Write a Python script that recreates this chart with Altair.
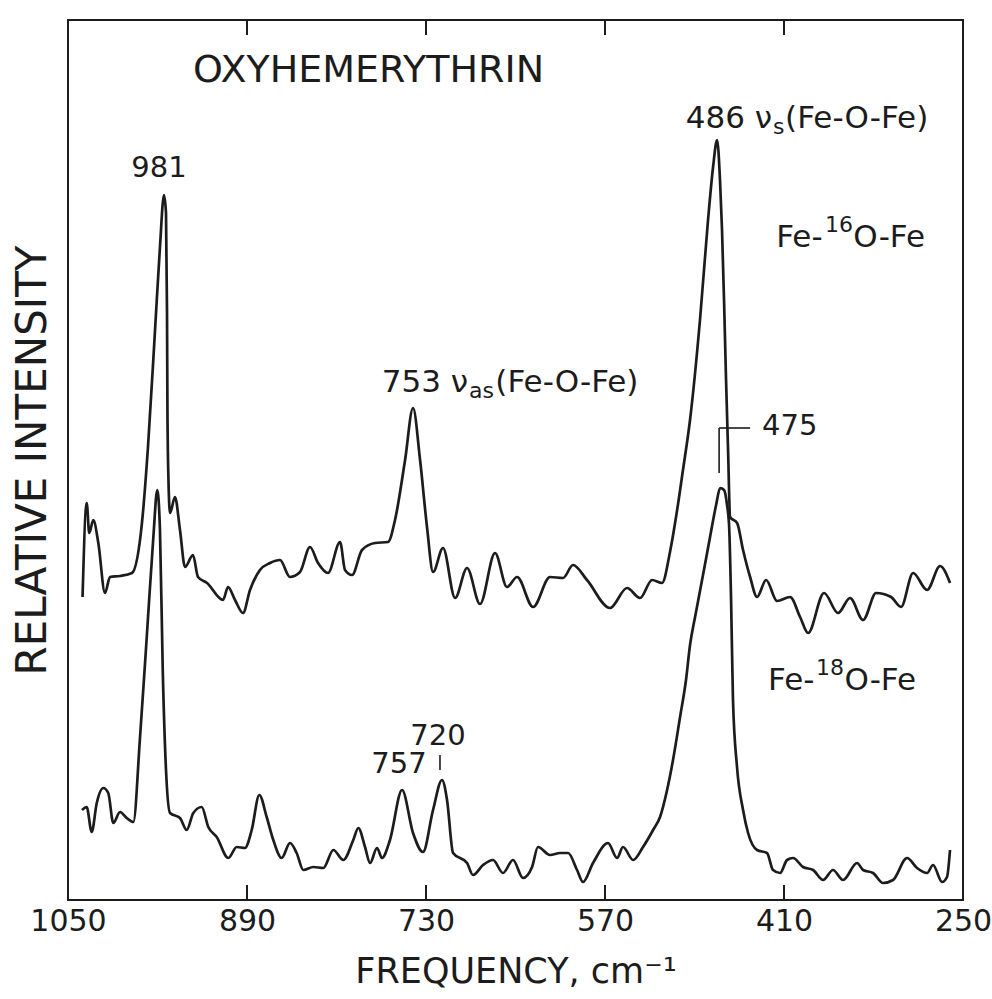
import altair as alt
import pandas as pd

# ---- data (frequency in cm-1, relative intensity in arbitrary units) ----
FREQ_UPPER = [1037.0, 1033.3, 1031.0, 1027.4, 1022.9, 1016.9, 1012.5, 1003.5, 992.8, 983.9,
              978.5, 972.2, 967.8, 964.2, 962.4, 961.5, 961.1, 960.2, 958.8, 954.4,
              949.9, 945.4, 938.3, 933.8, 925.7, 911.4, 907.0, 900.7, 893.6, 887.3,
              878.4, 869.4, 860.5, 851.6, 842.6, 833.7, 826.5, 817.6, 806.8, 802.4,
              796.1, 787.2, 775.6, 763.9, 757.7, 748.7, 741.6, 735.3, 729.1, 723.7,
              714.8, 704.0, 693.3, 681.7, 668.3, 657.6, 648.6, 634.3, 619.1, 607.5,
              598.6, 586.1, 565.5, 550.3, 538.7, 527.9, 519.0, 511.9, 506.5, 500.3,
              494.0, 485.1, 477.9, 473.4, 469.8, 467.2, 465.4, 463.6, 461.8, 460.0,
              458.2, 451.9, 446.6, 440.3, 434.1, 426.0, 416.2, 404.6, 395.6, 388.5,
              374.2, 361.7, 351.0, 339.3, 327.7, 314.3, 305.4, 294.6, 282.1, 270.5,
              261.6]
INT_UPPER = [303, 397, 367, 380, 357, 307, 323, 324, 327, 377,
             453, 570, 653, 705, 687, 587, 487, 420, 387, 403,
             370, 333, 345, 323, 317, 300, 313, 300, 287, 310,
             330, 337, 340, 323, 328, 353, 337, 327, 358, 330,
             325, 350, 357, 358, 380, 440, 492, 440, 373, 328,
             352, 302, 332, 296, 347, 313, 323, 293, 323, 322,
             335, 320, 292, 312, 302, 320, 317, 348, 383, 430,
             480, 580, 680, 733, 760, 720, 670, 600, 520, 450,
             383, 377, 350, 323, 303, 320, 299, 303, 283, 267,
             307, 287, 302, 280, 307, 303, 293, 327, 310, 334,
             317]

FREQ_LOWER = [1037.5, 1033.3, 1028.8, 1024.3, 1018.4, 1014.0, 1009.5, 1003.5, 997.5, 991.6,
              985.6, 979.6, 973.7, 970.2, 967.8, 965.3, 962.4, 958.8, 949.9, 943.9,
              938.0, 930.5, 924.6, 917.1, 906.7, 899.2, 891.8, 885.8, 879.0, 872.4,
              866.5, 859.0, 851.6, 845.6, 839.7, 830.7, 821.8, 812.8, 803.9, 795.0,
              790.5, 784.5, 780.0, 773.8, 769.3, 762.2, 751.4, 741.6, 732.7, 723.7,
              715.7, 711.2, 705.8, 693.3, 688.0, 679.0, 670.1, 661.2, 652.2, 643.3,
              635.2, 629.9, 619.1, 610.2, 603.0, 595.0, 589.6, 580.7, 567.3, 559.2,
              553.9, 544.9, 536.0, 527.0, 520.8, 514.5, 509.2, 502.9, 497.6, 494.0,
              489.5, 482.4, 476.1, 470.7, 467.1, 463.6, 460.9, 459.1, 457.3, 455.6,
              452.0, 446.6, 442.1, 434.1, 425.2, 419.8, 413.5, 407.3, 401.9, 393.0,
              384.0, 375.1, 366.2, 357.2, 344.7, 339.3, 330.4, 321.5, 312.5, 300.0,
              291.1, 282.1, 276.8, 268.7, 264.3, 261.6]
INT_LOWER = [90, 93, 68, 97, 112, 107, 77, 88, 82, 78,
             163, 263, 363, 410, 370, 230, 130, 87, 82, 70,
             87, 93, 73, 63, 42, 53, 52, 70, 105, 83,
             60, 42, 57, 47, 30, 33, 32, 50, 40, 60,
             72, 53, 37, 52, 42, 60, 110, 67, 48, 90,
             120, 100, 47, 37, 25, 35, 40, 27, 40, 22,
             33, 53, 45, 47, 47, 30, 18, 37, 57, 42,
             53, 40, 53, 70, 83, 110, 140, 183, 220, 255,
             283, 325, 363, 395, 412, 410, 395, 375, 300, 200,
             133, 90, 67, 50, 47, 30, 27, 40, 42, 33,
             30, 20, 30, 20, 37, 30, 27, 17, 20, 42,
             32, 27, 35, 18, 23, 50]

TRACE_NAMES = ["Fe-16O-Fe", "Fe-18O-Fe"]
TICK_LABELS = [1050, 890, 730, 570, 410, 250]
INNER_TICKS = [890, 730, 570, 410]

FONT = "DejaVu Sans"
INK = "#1c1c1c"

rows = []
for name, fs, vs in [(TRACE_NAMES[0], FREQ_UPPER, INT_UPPER), (TRACE_NAMES[1], FREQ_LOWER, INT_LOWER)]:
    for i, (f, v) in enumerate(zip(fs, vs)):
        rows.append({"freq": f, "intensity": v, "trace": name, "idx": i})
spectra = pd.DataFrame(rows)

x_scale = alt.Scale(domain=[1050, 250], nice=False, zero=False)
y_scale = alt.Scale(domain=[0, 880], nice=False, zero=False)

lines = alt.Chart(spectra).mark_line(color=INK, strokeWidth=2.7, strokeJoin="round",
                                     interpolate="monotone").encode(
    x=alt.X("freq:Q", scale=x_scale,
            axis=alt.Axis(values=TICK_LABELS, format="d", ticks=False, domain=False, grid=False,
                          labelFontSize=30, labelFont=FONT, labelColor=INK, labelPadding=6,
                          labelFlush=False, labelOverlap=False,
                          title="FREQUENCY,  cm⁻¹", titleFont=FONT, titleFontSize=35,
                          titleFontWeight="normal", titleColor=INK, titlePadding=18)),
    y=alt.Y("intensity:Q", scale=y_scale,
            axis=alt.Axis(labels=False, ticks=False, domain=False, grid=False,
                          title="RELATIVE INTENSITY", titleFont=FONT, titleFontSize=42,
                          titleFontWeight="normal", titleColor=INK, titlePadding=23,
                          titleBaseline="alphabetic")),
    detail="trace:N",
    order="idx:Q",
)

# inward ticks on bottom and top edges
tick_rows = []
for f in INNER_TICKS:
    tick_rows.append({"freq": f, "y1": 0, "y2": 15})
    tick_rows.append({"freq": f, "y1": 865, "y2": 880})
ticks = alt.Chart(pd.DataFrame(tick_rows)).mark_rule(color=INK, strokeWidth=2).encode(
    x=alt.X("freq:Q", scale=x_scale), y=alt.Y("y1:Q", scale=y_scale), y2="y2:Q")

# small marker lines for the 475 and 720 labels
seg = pd.DataFrame([
    {"x1": 468.0, "x2": 468.0, "y1": 427, "y2": 472},
    {"x1": 468.0, "x2": 440.3, "y1": 472, "y2": 472},
    {"x1": 717.5, "x2": 717.5, "y1": 130, "y2": 145},
])
markers = alt.Chart(seg).mark_rule(color=INK, strokeWidth=1.6).encode(
    x=alt.X("x1:Q", scale=x_scale), x2="x2:Q",
    y=alt.Y("y1:Q", scale=y_scale), y2="y2:Q")

# annotations (text, frequency, intensity, font size, alignment)
ANNOT = [
    ("OXYHEMERYTHRIN", 938.3, 818, 38, "left"),
    ("981", 968.7, 723, 29, "center"),
    ("486 ν", 420.7, 772, 31, "right"),
    ("s", 419.8, 766, 22, "left"),
    ("(Fe-O-Fe)", 409.0, 772, 31, "left"),
    ("Fe-", 417.0, 653, 31, "left"),
    ("16", 373.3, 668, 22, "left"),
    ("O-Fe", 348.0, 653, 31, "left"),
    ("753 ν", 692.4, 508, 31, "right"),
    ("as", 691.5, 502, 22, "left"),
    ("(Fe-O-Fe)", 668.0, 508, 31, "left"),
    ("475", 429.6, 465, 29, "left"),
    ("Fe-", 424.2, 210, 31, "left"),
    ("18", 381.3, 225, 22, "left"),
    ("O-Fe", 356.0, 210, 31, "left"),
    ("720", 719.3, 155, 29, "center"),
    ("757", 754.1, 127, 29, "center"),
]
ann = pd.DataFrame(ANNOT, columns=["text", "freq", "intensity", "size", "align"])

text_layers = []
for al in ["left", "center", "right"]:
    sub = ann[ann["align"] == al]
    text_layers.append(
        alt.Chart(sub).mark_text(align=al, baseline="alphabetic", font=FONT, color=INK).encode(
            x=alt.X("freq:Q", scale=x_scale),
            y=alt.Y("intensity:Q", scale=y_scale),
            text="text:N",
            size=alt.Size("size:Q", scale=None, legend=None),
        )
    )

chart = alt.layer(lines, ticks, markers, *text_layers).properties(
    width=895, height=880,
    padding={"left": 68, "top": 20, "right": 29, "bottom": 99},
    autosize=alt.AutoSizeParams(type="none"),
    background="white",
).configure_view(stroke=INK, strokeWidth=2)

chart.save("out.html", embed_options={"renderer": "svg", "actions": False})
